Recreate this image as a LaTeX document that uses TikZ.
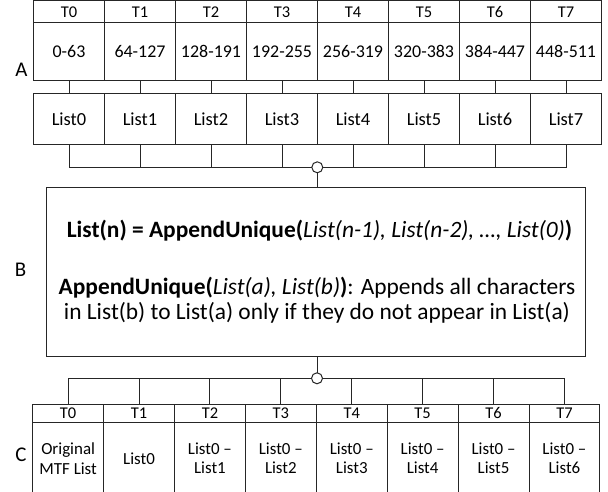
\documentclass[tikz,border=0pt]{standalone}
\usepackage{fontspec}
\setmainfont{Carlito}
\begin{document}
\begin{tikzpicture}[x=1bp,y=-1bp,line width=1bp,
  every node/.style={inner sep=0pt,outer sep=0pt},
  hdr/.style={draw=black!85,minimum width=71bp,minimum height=22bp,text height=11bp,text depth=0bp,font=\fontsize{16.5}{18}\selectfont},
  rng/.style={draw=black!85,minimum width=71bp,minimum height=58.3bp,text height=12bp,text depth=0bp,font=\fontsize{18}{20}\selectfont},
  lst/.style={draw=black!85,minimum width=71bp,minimum height=51.7bp,text height=12bp,text depth=0bp,font=\fontsize{18.5}{20}\selectfont},
  body/.style={draw=black!85,minimum width=70.9bp,minimum height=80bp},
  bodytext/.style={font=\fontsize{17}{19.5}\selectfont,align=center},
  hdrc/.style={draw=black!85,minimum width=70.9bp,minimum height=18.7bp,text height=11bp,text depth=0bp,font=\fontsize{16.5}{18}\selectfont},
  junc/.style={circle,draw=black!85,fill=white,minimum size=11bp},
  wire/.style={draw=black!85},
  lab/.style={font=\fontsize{21}{24}\selectfont},
  btext/.style={font=\fontsize{23.5}{25.5}\selectfont,align=center}]
\useasboundingbox (0,0) rectangle (608,492);
\clip (0,0) rectangle (608,492);
% top grid
\foreach \i/\r in {0/0-63,1/64-127,2/128-191,3/192-255,4/256-319,5/320-383,6/384-447,7/448-511}{
  \node[hdr] (th\i) at ({33.5+71*\i+35.5},11.7) {T\i};
  \node[rng] (r\i) at ({33.5+71*\i+35.5},51.85) {\r};
  \node[lst] (l\i) at ({33.5+71*\i+35.5},119.15) {List\i};
  \draw[wire] (r\i.south) -- (l\i.north);
}
\node[junc] (j1) at (317.3,167.3) {};
\foreach \i in {0,1,2,3}{ \draw[wire] (l\i.south) |- (j1.west); }
\foreach \i in {4,5,6,7}{ \draw[wire] (l\i.south) |- (j1.east); }
% box B
\node[draw=black!85,minimum width=539bp,minimum height=168.7bp] (B) at (316.2,271.65) {};
\draw[wire] (j1.south) -- (j1.south |- B.north);
\node[btext] (b1) at (319.5,230.5) {\textbf{List(n) = AppendUnique(}\textit{List(n-1), List(n-2), …, List(0)}\textbf{)}};
\node[btext] (b2) at (317,300) {\textbf{AppendUnique(}\textit{List(a), List(b)}\textbf{)}: Appends all characters\\in List(b) to List(a) only if they do not appear in List(a)};
% bottom
\node[junc] (j2) at (317,378.3) {};
\draw[wire] (j2.north |- B.south) -- (j2.north);
\foreach \i/\t in {0/{Original\\MTF List},1/List0,2/{List0 –\\List1},3/{List0 –\\List2},4/{List0 –\\List3},5/{List0 –\\List4},6/{List0 –\\List5},7/{List0 –\\List6}}{
  \node[hdrc] (bh\i) at ({32.7+70.9*\i+35.45},413.35) {T\i};
  \node[body,anchor=north] (bb\i) at (bh\i.south) {};
  \node[bodytext] (bt\i) at ({32.7+70.9*\i+35.45},458.5) {\t};
}
\foreach \i in {0,1,2,3}{ \draw[wire] (bh\i.north) |- (j2.west); }
\foreach \i in {4,5,6,7}{ \draw[wire] (bh\i.north) |- (j2.east); }
% labels
\node[lab] (la) at (21.5,70) {A};
\node[lab] (lb) at (20.5,270) {B};
\node[lab] (lc) at (21,455) {C};
\end{tikzpicture}
\end{document}
